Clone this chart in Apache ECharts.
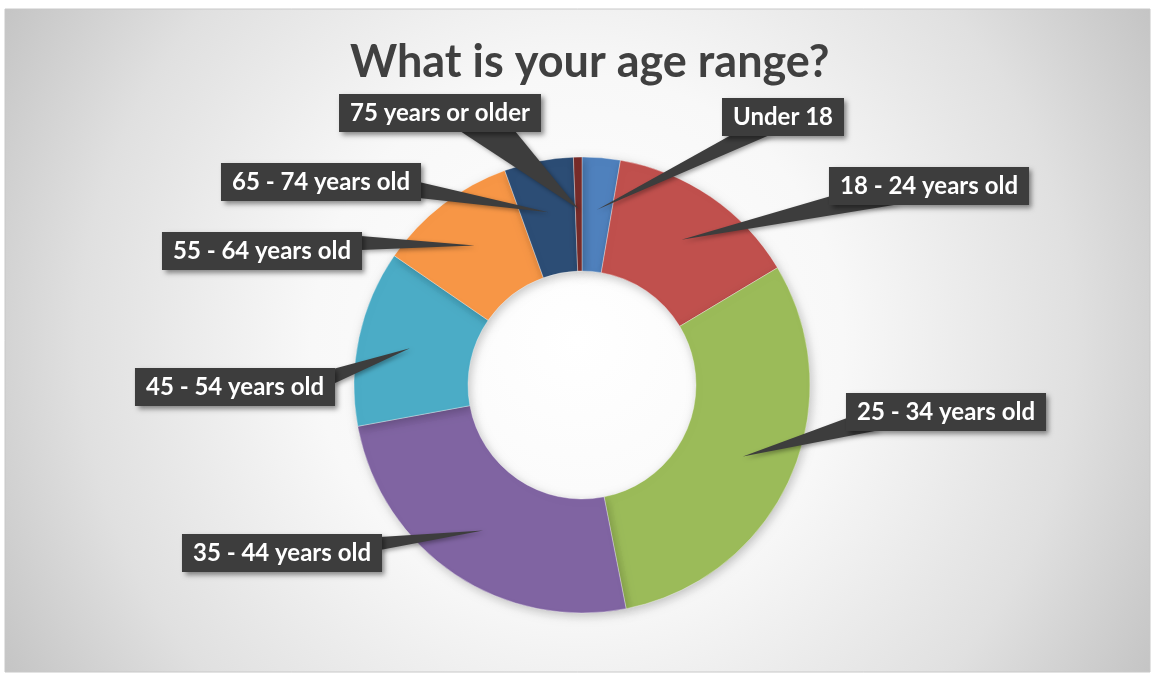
<!DOCTYPE html>
<html>
<head>
<meta charset="utf-8">
<title>What is your age range?</title>
<script src="https://cdn.jsdelivr.net/npm/echarts@6/dist/echarts.min.js"></script>
<style>
  html, body { margin: 0; padding: 0; background: #fff; }
  #chart { width: 1153px; height: 677px; }
</style>
</head>
<body>
<div id="chart"></div>
<script>
// age groups, clockwise from 12 o'clock
const categories = [
  'Under 18', '18 - 24 years old', '25 - 34 years old', '35 - 44 years old',
  '45 - 54 years old', '55 - 64 years old', '65 - 74 years old', '75 years or older'
]
// share of respondents, %
const shares = [2.7, 13.7, 30.5, 25.2, 12.5, 9.9, 4.9, 0.6]
const colors = ['#4f81bd', '#c0504d', '#9bbb59', '#8064a2', '#4bacc6', '#f79646', '#2c4d75', '#772c2a']

// callout placement (layout only): box centre and the two base points of the pointer
const calloutCenter = [
  [783, 117], [929, 186], [946, 412], [282, 553],
  [235, 387], [262, 251], [321, 182], [440, 113]
]
const calloutBase = [
  [[733, 134], [772, 134]],
  [[831, 196], [900, 204]],
  [[847, 418], [880, 430]],
  [[380, 537], [380, 550]],
  [[333, 369], [333, 384]],
  [[361, 236], [361, 250]],
  [[419, 182], [419, 198]],
  [[460, 131], [515, 131]]
]

const CX = 582, CY = 385, R0 = 114, R1 = 228, RMID = 176
const BOX = '#3d3d3d'

// mid angle of each slice (radians, screen coords); pointers start there inside the ring
const total = shares.reduce((a, b) => a + b, 0)
let acc = 0
const midAngles = shares.map(v => {
  const mid = acc + v / 2
  acc += v
  return -Math.PI / 2 + (mid / total) * Math.PI * 2
})

const chart = echarts.init(document.getElementById('chart'))

chart.setOption({
  animation: false,
  backgroundColor: '#fff',
  graphic: [{
    type: 'rect',
    z: -10,
    silent: true,
    shape: { x: 5, y: 9, width: 1145, height: 663 },
    style: {
      fill: {
        type: 'radial', x: 0.5, y: 0.5, r: 1,
        colorStops: [
          { offset: 0, color: '#ffffff' },
          { offset: 0.4, color: '#f8f8f8' },
          { offset: 0.75, color: '#e0e0e0' },
          { offset: 1, color: '#c4c4c4' }
        ]
      },
      stroke: '#c8c8c8',
      lineWidth: 1
    }
  }],
  title: {
    text: 'What is your age range?',
    left: 345,
    top: 35,
    textStyle: { fontFamily: 'Lato', fontWeight: 'bold', fontSize: 45, color: '#404040' }
  },
  series: [
    {
      type: 'pie',
      z: 2,
      center: [CX, CY],
      radius: [R0, R1],
      startAngle: 90,
      clockwise: true,
      silent: true,
      color: colors,
      itemStyle: {
        borderColor: 'rgba(255,255,255,0.35)',
        borderWidth: 1,
        shadowBlur: 10,
        shadowColor: 'rgba(0,0,0,0.22)',
        shadowOffsetX: 2,
        shadowOffsetY: 3
      },
      label: { show: false },
      labelLine: { show: false },
      data: categories.map((name, i) => ({ name: name, value: shares[i] }))
    },
    {
      // data callouts: tapered pointer + dark label box
      type: 'custom',
      coordinateSystem: 'none',
      z: 5,
      silent: true,
      data: shares,
      renderItem: function (params) {
        const i = params.dataIndex
        const a = midAngles[i]
        const tip = [CX + Math.cos(a) * RMID, CY + Math.sin(a) * RMID]
        const base = calloutBase[i]
        return {
          type: 'group',
          children: [
            {
              type: 'polygon',
              shape: { points: [tip, base[0], base[1]] },
              style: {
                fill: BOX,
                shadowBlur: 4,
                shadowColor: 'rgba(0,0,0,0.35)',
                shadowOffsetX: 2,
                shadowOffsetY: 2
              }
            },
            {
              type: 'text',
              x: calloutCenter[i][0],
              y: calloutCenter[i][1],
              style: {
                text: categories[i],
                fontFamily: 'Lato',
                fontWeight: 'bold',
                fontSize: 24,
                fill: '#ffffff',
                align: 'center',
                verticalAlign: 'middle',
                backgroundColor: BOX,
                padding: [7, 11, 7, 11],
                shadowBlur: 5,
                shadowColor: 'rgba(0,0,0,0.45)',
                shadowOffsetX: 3,
                shadowOffsetY: 3
              }
            }
          ]
        }
      }
    }
  ]
})
</script>
</body>
</html>
